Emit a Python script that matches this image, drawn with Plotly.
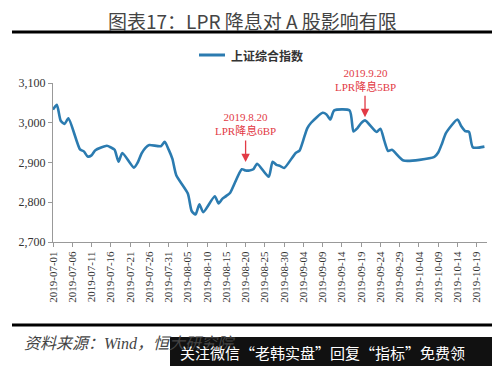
import plotly.graph_objects as go

# ---- data (trading days, SSE Composite) ----
dates = [
    "2019-07-01", "2019-07-02", "2019-07-03", "2019-07-04", "2019-07-05",
    "2019-07-08", "2019-07-09", "2019-07-10", "2019-07-11", "2019-07-12",
    "2019-07-15", "2019-07-16", "2019-07-17", "2019-07-18", "2019-07-19",
    "2019-07-22", "2019-07-23", "2019-07-24", "2019-07-25", "2019-07-26",
    "2019-07-29", "2019-07-30", "2019-07-31", "2019-08-01", "2019-08-02",
    "2019-08-05", "2019-08-06", "2019-08-07", "2019-08-08", "2019-08-09",
    "2019-08-12", "2019-08-13", "2019-08-14", "2019-08-15", "2019-08-16",
    "2019-08-19", "2019-08-20", "2019-08-21", "2019-08-22", "2019-08-23",
    "2019-08-26", "2019-08-27", "2019-08-28", "2019-08-29", "2019-08-30",
    "2019-09-02", "2019-09-03", "2019-09-04", "2019-09-05", "2019-09-06",
    "2019-09-09", "2019-09-10", "2019-09-11", "2019-09-12", "2019-09-16",
    "2019-09-17", "2019-09-18", "2019-09-19", "2019-09-20", "2019-09-23",
    "2019-09-24", "2019-09-25", "2019-09-26", "2019-09-27", "2019-09-30",
    "2019-10-08", "2019-10-09", "2019-10-10", "2019-10-11", "2019-10-14",
    "2019-10-15", "2019-10-16", "2019-10-17", "2019-10-18", "2019-10-21",
]
sse_index = [
    3033, 3045, 3005, 2997, 3011,
    2933, 2928, 2915, 2918, 2931,
    2942, 2938, 2932, 2902, 2924,
    2887, 2900, 2923, 2937, 2944,
    2941, 2952, 2933, 2909, 2868,
    2822, 2778, 2769, 2795, 2775,
    2815, 2797, 2809, 2816, 2824,
    2883, 2880, 2880, 2883, 2897,
    2864, 2902, 2894, 2891, 2886,
    2924, 2930, 2957, 2986, 3000,
    3025, 3021, 3008, 3031, 3031,
    2978, 2986, 2999, 3006, 2977,
    2985, 2955, 2929, 2932, 2905,
    2914, 2925, 2948, 2974, 3008,
    2991, 2979, 2977, 2938, 2940,
]
series_name = "上证综合指数"
tick_dates = [
    "2019-07-01", "2019-07-06", "2019-07-11", "2019-07-16", "2019-07-21",
    "2019-07-26", "2019-07-31", "2019-08-05", "2019-08-10", "2019-08-15",
    "2019-08-20", "2019-08-25", "2019-08-30", "2019-09-04", "2019-09-09",
    "2019-09-14", "2019-09-19", "2019-09-24", "2019-09-29", "2019-10-04",
    "2019-10-09", "2019-10-14", "2019-10-19",
]
y_ticks = [2700, 2800, 2900, 3000, 3100]
events = [
    ("2019-08-20", 2901, "2019.8.20<br>LPR降息6BP"),
    ("2019-09-20", 3014, "2019.9.20<br>LPR降息5BP"),
]

# ---- layout geometry (page pixels; the page body adds an 8px offset) ----
OFF = 8
W, H = 500 - OFF, 366 - OFF
PL, PR, PT, PB = 53, 487, 83, 242          # plot area in page pixels
L, T = PL - OFF, PT - OFF
R, B = W - (PR - OFF), H - (PB - OFF)
pw, ph = W - L - R, H - T - B
LINE_COLOR = "#2b7bb0"


def px_x(p):
    return (p - PL) / pw


def px_y(p):
    return (PB - p) / ph


SERIF = "Liberation Serif, Noto Sans CJK SC, serif"
CJK = "Noto Sans CJK SC, sans-serif"
RED = "#e23a45"

fig = go.Figure()
fig.add_trace(go.Scatter(
    x=dates, y=sse_index, mode="lines", name=series_name,
    line=dict(color=LINE_COLOR, width=2.6, shape="spline", smoothing=0.6),
    showlegend=False,
))

annotations = []
shapes = []
for d, tip, label in events:
    annotations.append(dict(
        x=d, y=tip, xref="x", yref="y", text="", showarrow=True,
        ax=0, ay=-23, arrowhead=2, arrowsize=1.3, arrowwidth=1.3,
        arrowcolor=RED,
    ))
for (d, tip, label), ybot in zip(events, [139, 95]):
    annotations.append(dict(
        x=d, y=px_y(ybot), xref="x", yref="paper", text=label,
        showarrow=False, xanchor="center", yanchor="bottom",
        font=dict(family=SERIF, size=11, color=RED), align="center",
    ))

# title as an annotation placed in page pixels
annotations.append(dict(
    x=px_x(252), y=px_y(20), xref="paper", yref="paper",
    text="图表17：LPR 降息对 A 股影响有限", showarrow=False,
    xanchor="center", yanchor="middle",
    font=dict(family=CJK, size=19, color="#444"),
))

# legend (drawn manually so it does not push the margins)
shapes.append(dict(type="line", xref="paper", yref="paper",
                   x0=px_x(199), x1=px_x(225), y0=px_y(55), y1=px_y(55),
                   line=dict(color=LINE_COLOR, width=3)))
annotations.append(dict(
    x=px_x(229), y=px_y(55), xref="paper", yref="paper",
    text="<b>" + series_name + "</b>", showarrow=False,
    xanchor="left", yanchor="middle",
    font=dict(family=CJK, size=12, color="#333"),
))

# source text
annotations.append(dict(
    x=px_x(22), y=px_y(343), xref="paper", yref="paper",
    text="<i>资料来源：Wind，恒大研究院</i>", showarrow=False,
    xanchor="left", yanchor="middle",
    font=dict(family=SERIF, size=16, color="#444"),
))
# watermark overlay
shapes.append(dict(
    type="rect", xref="paper", yref="paper",
    x0=px_x(170), x1=px_x(501), y0=px_y(337), y1=px_y(367),
    fillcolor="#111", line=dict(width=0), layer="above",
))
annotations.append(dict(
    x=px_x(178), y=px_y(352), xref="paper", yref="paper",
    text="关注微信“老韩实盘”回复“指标”免费领", showarrow=False,
    xanchor="left", yanchor="middle",
    font=dict(family=CJK, size=15, color="white"),
))
# header / footer rules
shapes.append(dict(type="line", xref="paper", yref="paper",
                   x0=px_x(12), x1=px_x(493), y0=px_y(32), y1=px_y(32),
                   line=dict(color="black", width=3)))
shapes.append(dict(type="line", xref="paper", yref="paper",
                   x0=px_x(12), x1=px_x(493), y0=px_y(325), y1=px_y(325),
                   line=dict(color="black", width=3)))

fig.update_layout(
    width=W, height=H,
    margin=dict(l=L, r=R, t=T, b=B, autoexpand=False),
    paper_bgcolor="white", plot_bgcolor="white",
    showlegend=False,
    xaxis=dict(
        type="date", range=["2019-07-01", "2019-10-21 16:00"],
        tickmode="array", tickvals=tick_dates,
        ticktext=[t for t in tick_dates], tickangle=-90,
        tickfont=dict(family=SERIF, size=11, color="#333"),
        showgrid=False, zeroline=False, showline=True, linecolor="#999",
        linewidth=1, ticks="outside", ticklen=4, tickcolor="#999",
        automargin=False,
    ),
    yaxis=dict(
        range=[2700, 3100], tickvals=y_ticks, tickformat=",d",
        tickfont=dict(family=SERIF, size=12, color="#333"),
        showgrid=False, zeroline=False, showline=True, linecolor="#999",
        linewidth=1, ticks="outside", ticklen=4, tickcolor="#999",
        automargin=False,
    ),
    annotations=annotations, shapes=shapes,
)

fig.write_html("out.html")
